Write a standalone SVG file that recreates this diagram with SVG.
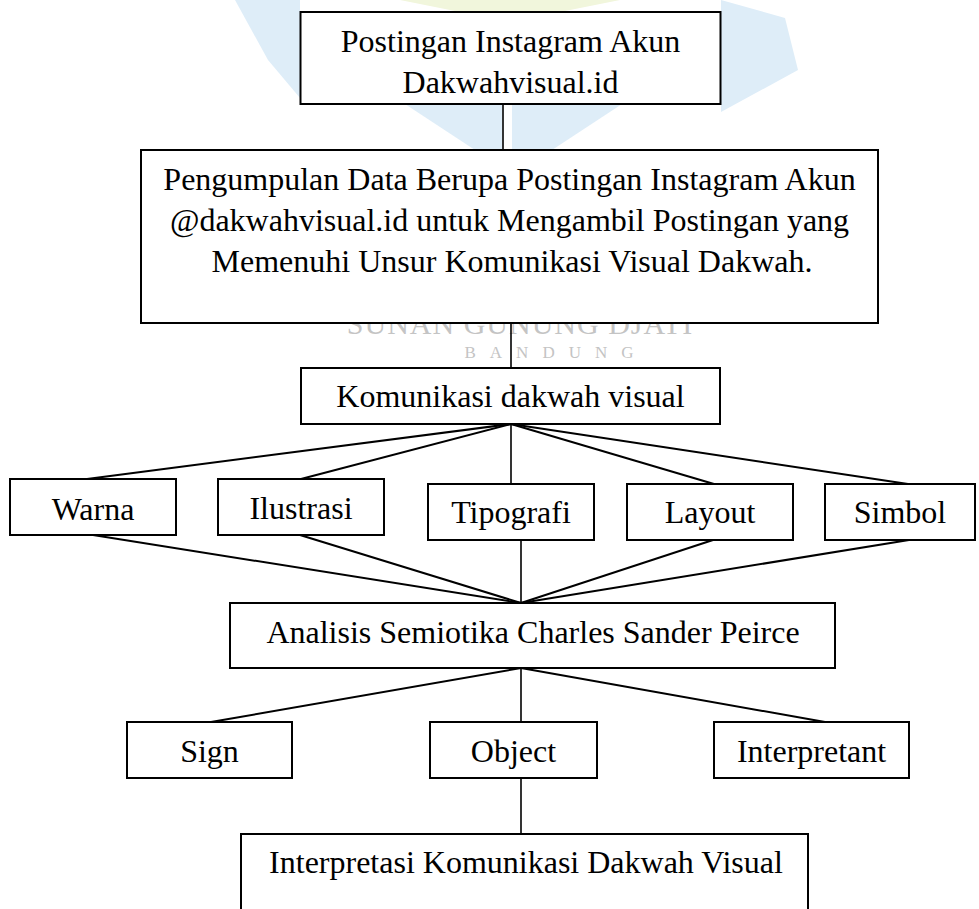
<svg xmlns="http://www.w3.org/2000/svg" width="979" height="909" viewBox="0 0 979 909">
<style>
.box{fill:#fff;stroke:#000;stroke-width:2}
.t{font-family:"Liberation Serif","Times New Roman",serif;font-size:32px;fill:#000;text-anchor:middle}
.c{stroke:#000;stroke-width:2;fill:none}
.v{stroke:#000;stroke-width:1.6;fill:none}
.wm{font-family:"Liberation Serif",serif;fill:#c4c4c4;text-anchor:middle}
.pb{fill:#deedf8}
.pg{fill:#f1f6dc}
</style>
<rect width="979" height="909" fill="#fff"/>
<g id="watermark">
<polygon class="pg" points="400,0 620,0 560,12 460,12"/>
<polygon class="pb" points="235,0 300,0 300,98 268,60"/>
<polygon class="pb" points="721,0 785,18 798,70 721,112"/>
<polygon class="pb" points="405,104 502,104 502,150 475,150"/>
<polygon class="pb" points="512,104 622,104 552,150 512,150"/>
<text class="wm" x="520" y="334" font-size="30" letter-spacing="1">SUNAN GUNUNG DJATI</text>
<text class="wm" x="556" y="358" font-size="17" letter-spacing="14">BANDUNG</text>
</g>
<g id="connectors">
<line class="v" x1="503" y1="104" x2="503" y2="150"/>
<line class="v" x1="511" y1="323" x2="511" y2="368"/>
<line class="c" x1="511" y1="424" x2="87" y2="479"/>
<line class="c" x1="511" y1="424" x2="301" y2="479"/>
<line class="v" x1="511" y1="424" x2="511" y2="484"/>
<line class="c" x1="511" y1="424" x2="714" y2="484"/>
<line class="c" x1="511" y1="424" x2="908" y2="484"/>
<line class="c" x1="93" y1="535" x2="521" y2="603"/>
<line class="c" x1="300" y1="535" x2="521" y2="603"/>
<line class="v" x1="521" y1="540" x2="521" y2="603"/>
<line class="c" x1="713" y1="540" x2="521" y2="603"/>
<line class="c" x1="909" y1="540" x2="521" y2="603"/>
<line class="c" x1="521" y1="668" x2="211" y2="722"/>
<line class="v" x1="521" y1="668" x2="521" y2="722"/>
<line class="c" x1="521" y1="668" x2="825" y2="722"/>
<line class="v" x1="521" y1="778" x2="521" y2="834"/>
</g>
<g id="n-postingan">
<rect class="box" x="300.5" y="12" width="420" height="92"/>
<text class="t" x="510.5" y="52">Postingan Instagram Akun</text>
<text class="t" x="510.5" y="93">Dakwahvisual.id</text>
</g>
<g id="n-pengumpulan">
<rect class="box" x="141" y="150" width="737" height="173"/>
<text class="t" x="509.5" y="190">Pengumpulan Data Berupa Postingan Instagram Akun</text>
<text class="t" x="509.5" y="231">@dakwahvisual.id untuk Mengambil Postingan yang</text>
<text class="t" x="512" y="272">Memenuhi Unsur Komunikasi Visual Dakwah.</text>
</g>
<g id="n-komunikasi">
<rect class="box" x="301" y="368" width="419" height="56"/>
<text class="t" x="510.5" y="407">Komunikasi dakwah visual</text>
</g>
<g id="n-warna">
<rect class="box" x="10" y="479" width="166" height="56"/>
<text class="t" x="93" y="520">Warna</text>
</g>
<g id="n-ilustrasi">
<rect class="box" x="218" y="479" width="166" height="56"/>
<text class="t" x="301" y="519">Ilustrasi</text>
</g>
<g id="n-tipografi">
<rect class="box" x="428" y="484" width="166" height="56"/>
<text class="t" x="511" y="523">Tipografi</text>
</g>
<g id="n-layout">
<rect class="box" x="627" y="484" width="166" height="56"/>
<text class="t" x="710" y="523">Layout</text>
</g>
<g id="n-simbol">
<rect class="box" x="825" y="484" width="150" height="56"/>
<text class="t" x="900" y="523">Simbol</text>
</g>
<g id="n-analisis">
<rect class="box" x="230" y="603" width="605" height="65"/>
<text class="t" x="533" y="643">Analisis Semiotika Charles Sander Peirce</text>
</g>
<g id="n-sign">
<rect class="box" x="127" y="722" width="165" height="56"/>
<text class="t" x="209.5" y="762">Sign</text>
</g>
<g id="n-object">
<rect class="box" x="430" y="722" width="167" height="56"/>
<text class="t" x="513.5" y="762">Object</text>
</g>
<g id="n-interpretant">
<rect class="box" x="714" y="722" width="195" height="56"/>
<text class="t" x="811.5" y="762">Interpretant</text>
</g>
<g id="n-interpretasi">
<rect class="box" x="241" y="834" width="567" height="90"/>
<text class="t" x="526" y="873">Interpretasi Komunikasi Dakwah Visual</text>
</g>
</svg>
